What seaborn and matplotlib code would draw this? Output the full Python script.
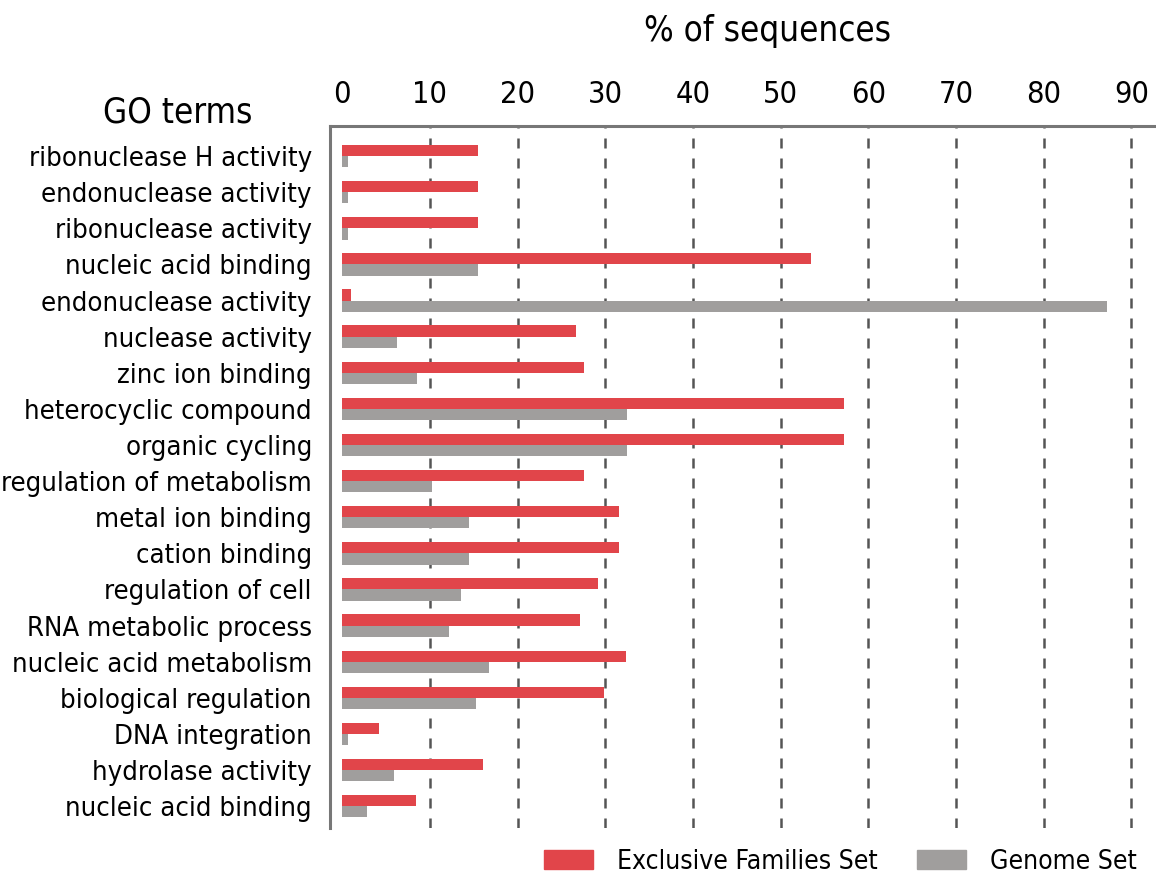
import matplotlib
matplotlib.use('Agg')
import matplotlib.pyplot as plt
import pandas as pd
import seaborn as sns

terms = ['ribonuclease H activity', 'endonuclease activity', 'ribonuclease activity',
         'nucleic acid binding', 'endonuclease activity', 'nuclease activity',
         'zinc ion binding', 'heterocyclic compound', 'organic cycling',
         'regulation of metabolism', 'metal ion binding', 'cation binding',
         'regulation of cell', 'RNA metabolic process', 'nucleic acid metabolism',
         'biological regulation', 'DNA integration', 'hydrolase activity',
         'nucleic acid binding']
exclusive = [15.5, 15.5, 15.5, 53.4, 1.0, 26.6, 27.6, 57.2, 57.2, 27.6,
             31.5, 31.5, 29.2, 27.1, 32.4, 29.9, 4.2, 16.0, 8.4]
genome = [0.6, 0.6, 0.6, 15.5, 87.2, 6.2, 8.5, 32.5, 32.5, 10.2,
          14.4, 14.4, 13.5, 12.2, 16.7, 15.3, 0.6, 5.9, 2.8]
series = ['Exclusive Families Set', 'Genome Set']
colors = ['#E1454A', '#A09E9D']
xticks = [0, 10, 20, 30, 40, 50, 60, 70, 80, 90]

# long form, row index keeps duplicate term names apart
rows = list(range(len(terms)))
df = pd.DataFrame({
    'row': rows * 2,
    'value': exclusive + genome,
    'set': [series[0]] * len(rows) + [series[1]] * len(rows),
})

sns.set_style('white')
plt.rcParams['font.family'] = ['DejaVu Sans']
plt.rcParams['font.stretch'] = 'condensed'
plt.rcParams['text.color'] = 'black'
plt.rcParams['xtick.color'] = 'black'
plt.rcParams['ytick.color'] = 'black'

fig = plt.figure(figsize=(11.56, 8.82), dpi=100)
ax = fig.add_axes([0.2855, 0.061, 0.7145, 0.796])

sns.barplot(data=df, x='value', y='row', hue='set', orient='h',
            palette=colors, saturation=1, width=0.62, gap=0, dodge=True,
            edgecolor='none', linewidth=0, legend=False, ax=ax)

ax.set_xlim(-1.4, 92.8)
ax.set_ylim(18.61, -0.83)
ax.xaxis.tick_top()
ax.set_xticks(xticks)
ax.set_xticklabels([str(t) for t in xticks], fontsize=22)
ax.set_yticks(rows)
ax.set_yticklabels(terms, fontsize=19.7)
ax.tick_params(axis='x', length=0, pad=12)
ax.tick_params(axis='y', length=0, pad=13)
ax.set_xlabel('')
ax.set_ylabel('')

for v in xticks[1:]:
    ax.axvline(v, color='#555555', linestyle=(0, (4, 4)), linewidth=1.8, zorder=0)

for s in ['right', 'bottom']:
    ax.spines[s].set_visible(False)
for s in ['top', 'left']:
    ax.spines[s].set_color('#777777')
    ax.spines[s].set_linewidth(2.2)

fig.text(0.664, 0.965, '% of sequences', fontsize=25, ha='center', va='center')
fig.text(0.154, 0.872, 'GO terms', fontsize=25, ha='center', va='center')

handles = [plt.Rectangle((0, 0), 1, 1, color=c) for c in colors]
fig.legend(handles, series, loc='center', bbox_to_anchor=(0.727, 0.0227),
           ncol=2, frameon=False, fontsize=19, handlelength=1.85,
           handleheight=0.75, handletextpad=0.9, columnspacing=1.5,
           borderpad=0, borderaxespad=0)

fig.savefig('out.png', dpi=100)
